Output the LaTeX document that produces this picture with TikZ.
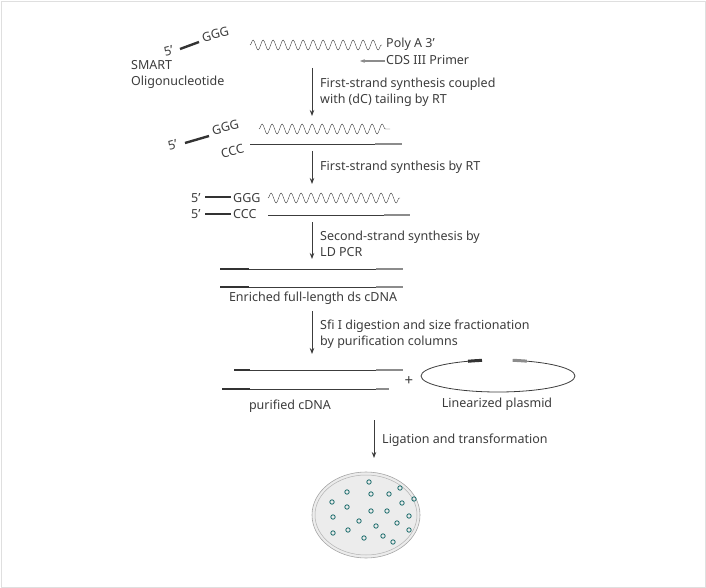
\documentclass[tikz,border=0pt]{standalone}
\usepackage{fontspec}
\setmainfont{Noto Sans}
\usetikzlibrary{positioning, arrows.meta, decorations.pathmorphing}

\definecolor{txt}{RGB}{60,60,60}
\definecolor{primer}{RGB}{140,140,140}
\definecolor{colony}{RGB}{30,110,110}

\tikzset{
  lbl/.style={anchor=west, text=txt, font=\fontsize{12.5}{16}\selectfont, inner sep=0pt},
  stage/.style={-{Stealth[length=6pt]}, thick, txt},
  rna/.style={txt, decorate, decoration={snake, segment length=10pt, amplitude=5pt}},
  strand/.style={txt, line width=0.8pt},
  adapt/.style={black!80, line width=2.4pt},
  tail/.style={primer, line width=2.4pt}
}

\begin{document}
\begin{tikzpicture}[x=1pt, y=-1pt]
    \useasboundingbox (0,0) rectangle (706,588);
    \draw[gray!25] (1,1) rectangle (705,587);

    % SMART oligo and poly A RNA
    \node[lbl, rotate=15] (s5a) at (164,52) {5'};
    \draw[adapt] (180,49) -- (199,42);
    \node[lbl, rotate=15] (ggga) at (202,38) {GGG};
    \node[lbl, align=left, anchor=north west] (smart) at (131,60) {SMART\\Oligonucleotide};
    \draw[rna] (250,45) -- (382,45);
    \node[lbl] (polya) at (386,44) {Poly A 3'};
    \node[lbl] (cds) at (386,60) {CDS III Primer};
    \draw[tail, line width=2pt, -{Stealth[length=5pt]}] (cds.west) ++(-1,1) -- ++(-25,0);

    % step 1
    \coordinate (a1) at (312,68);
    \coordinate (b1) at (312,116);
    \draw[stage] (a1) -- (b1);
    \node[lbl, align=left] (t1) at (320,92) {First-strand synthesis coupled\\with (dC) tailing by RT};

    % row 2
    \node[lbl, rotate=15] (s5b) at (168,146) {5'};
    \draw[adapt] (185,143) -- (209,136);
    \node[lbl, rotate=15] (gggb) at (212,131) {GGG};
    \draw[rna] (259,129) -- (390,129);
    \node[lbl, rotate=15] (cccb) at (221,154) {CCC};
    \draw[strand] (250,144) -- (375,144);
    \draw[tail] (375,144) -- (402,144);

    % step 2
    \coordinate (a2) at (312,151);
    \coordinate (b2) at (312,184);
    \draw[stage] (a2) -- (b2);
    \node[lbl] (t2) at (320,167) {First-strand synthesis by RT};

    % row 3
    \node[lbl] (s5c) at (191,198) {5'};
    \node[lbl] (s5d) at (191,214) {5'};
    \draw[adapt] (205,197) -- (231,197);
    \draw[adapt] (205,214) -- (231,214);
    \node[lbl] (gggc) at (233,198) {GGG};
    \node[lbl] (cccc) at (233,214) {CCC};
    \draw[rna] (268,198) -- (400,198);
    \draw[strand] (268,215) -- (384,215);
    \draw[tail] (384,215) -- (410,215);

    % step 3
    \coordinate (a3) at (312,222);
    \coordinate (b3) at (312,259);
    \draw[stage] (a3) -- (b3);
    \node[lbl, align=left] (t3) at (320,244) {Second-strand synthesis by\\LD PCR};

    % row 4: ds cDNA
    \foreach \y in {269,287} {
      \draw[adapt] (220,\y) -- (249,\y);
      \draw[strand] (249,\y) -- (376,\y);
      \draw[tail] (376,\y) -- (403,\y);
    }
    \node[lbl, anchor=center] (ds) at (313,298) {Enriched full-length ds cDNA};

    % step 4
    \coordinate (a4) at (312,311);
    \coordinate (b4) at (312,354);
    \draw[stage] (a4) -- (b4);
    \node[lbl, align=left] (t4) at (320,334) {Sfi I digestion and size fractionation\\by purification columns};

    % row 5: purified cDNA + plasmid
    \draw[adapt] (234,370) -- (250,370);
    \draw[strand] (250,370) -- (376,370);
    \draw[tail] (376,370) -- (403,370);
    \draw[adapt] (222,389) -- (250,389);
    \draw[strand] (250,389) -- (376,389);
    \draw[tail] (376,389) -- (389,389);
    \node[lbl, anchor=center, font=\fontsize{15}{15}\selectfont] (plus) at (409,381) {+};
    \draw[strand] (498,376) ++(-113:77 and 16) arc[start angle=-113, end angle=-428, x radius=77, y radius=16];
    \draw[adapt, line width=3pt] (498,376) ++(-113:77 and 16) arc[start angle=-113, end angle=-102, x radius=77, y radius=16];
    \draw[tail, line width=3pt] (498,376) ++(-79:77 and 16) arc[start angle=-79, end angle=-68, x radius=77, y radius=16];
    \node[lbl, anchor=center] (pcdna) at (290,406) {purified cDNA};
    \node[lbl, anchor=center] (plasmid) at (497,404) {Linearized plasmid};

    % step 5
    \coordinate (a5) at (374,420);
    \coordinate (b5) at (374,458);
    \draw[stage] (a5) -- (b5);
    \node[lbl] (t5) at (382,440) {Ligation and transformation};

    % petri dish
    \draw[gray!70, fill=gray!15, line width=0.6pt] (366,515) ellipse[x radius=54, y radius=43];
    \draw[gray!60, line width=0.5pt] (366,515) ellipse[x radius=51, y radius=40];
    \foreach \p in {(369,482),(347,492),(371,494),(389,494),(400,488),(332,502),(347,507),
                    (371,511),(387,511),(402,503),(414,499),(333,517),(359,521),(376,526),
                    (397,523),(409,516),(333,533),(348,530),(364,538),(383,536),(393,542),(409,530)}
      \draw[colony, line width=0.8pt] \p circle (2.2);

\end{tikzpicture}
\end{document}
